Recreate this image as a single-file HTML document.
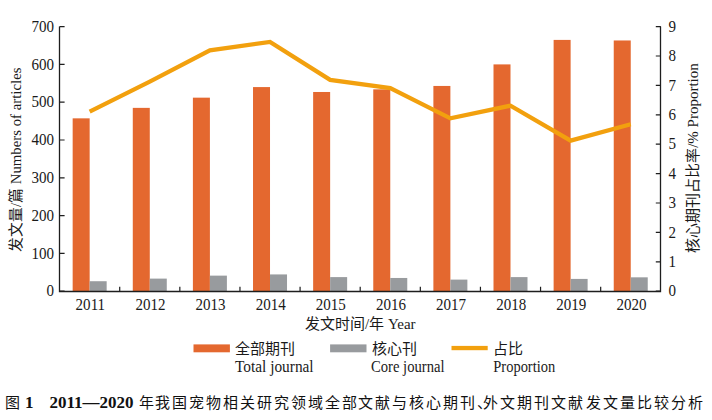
<!DOCTYPE html>
<html lang="zh-CN"><head><meta charset="utf-8"><style>
html,body{margin:0;padding:0;background:#fff;width:712px;height:420px;overflow:hidden}
svg{display:block}
.t{font-family:"Liberation Serif",serif;font-size:15px;fill:#1a1a1a}
.n{font-size:16px}
.cap{font-family:"Liberation Sans",sans-serif;font-size:15px;fill:#111}
.capn{font-family:"Liberation Serif",serif;font-size:17px;font-weight:bold;fill:#111}
</style></head><body>
<svg width="712" height="420" viewBox="0 0 712 420">
<g><rect x="72.66" y="118.34" width="17" height="172.86" fill="#E4682F"/><rect x="89.66" y="281.22" width="17" height="9.98" fill="#989B9E"/><rect x="132.78" y="107.87" width="17" height="183.33" fill="#E4682F"/><rect x="149.78" y="278.61" width="17" height="12.59" fill="#989B9E"/><rect x="192.90" y="97.66" width="17" height="193.54" fill="#E4682F"/><rect x="209.90" y="275.63" width="17" height="15.57" fill="#989B9E"/><rect x="253.02" y="87.08" width="17" height="204.12" fill="#E4682F"/><rect x="270.02" y="274.42" width="17" height="16.78" fill="#989B9E"/><rect x="313.14" y="91.99" width="17" height="199.21" fill="#E4682F"/><rect x="330.14" y="277.10" width="17" height="14.10" fill="#989B9E"/><rect x="373.26" y="89.35" width="17" height="201.85" fill="#E4682F"/><rect x="390.26" y="277.97" width="17" height="13.23" fill="#989B9E"/><rect x="433.38" y="85.95" width="17" height="205.25" fill="#E4682F"/><rect x="450.38" y="279.60" width="17" height="11.60" fill="#989B9E"/><rect x="493.50" y="64.40" width="17" height="226.80" fill="#E4682F"/><rect x="510.50" y="277.10" width="17" height="14.10" fill="#989B9E"/><rect x="553.62" y="39.91" width="17" height="251.29" fill="#E4682F"/><rect x="570.62" y="278.91" width="17" height="12.29" fill="#989B9E"/><rect x="613.74" y="40.47" width="17" height="250.73" fill="#E4682F"/><rect x="630.74" y="277.33" width="17" height="13.87" fill="#989B9E"/></g>
<polyline points="89.66,111.57 149.78,81.58 209.90,50.41 270.02,41.89 330.14,79.81 390.26,88.05 450.38,118.33 510.50,105.69 570.62,140.67 630.74,124.21" fill="none" stroke="#F2A00E" stroke-width="4.3" stroke-linejoin="miter" stroke-linecap="butt"/>
<path d="M59.5,26.6 V291.5 H660.5 V26.6" fill="none" stroke="#1e1e1e" stroke-width="1.3" stroke-linejoin="miter"/><path d="M59.6,291.20 h5 M59.6,253.40 h5 M59.6,215.60 h5 M59.6,177.80 h5 M59.6,140.00 h5 M59.6,102.20 h5 M59.6,64.40 h5 M59.6,26.60 h5 M660.8,291.20 h-5 M660.8,261.80 h-5 M660.8,232.40 h-5 M660.8,203.00 h-5 M660.8,173.60 h-5 M660.8,144.20 h-5 M660.8,114.80 h-5 M660.8,85.40 h-5 M660.8,56.00 h-5 M660.8,26.60 h-5 M119.72,291.2 v-4.5 M179.84,291.2 v-4.5 M239.96,291.2 v-4.5 M300.08,291.2 v-4.5 M360.20,291.2 v-4.5 M420.32,291.2 v-4.5 M480.44,291.2 v-4.5 M540.56,291.2 v-4.5 M600.68,291.2 v-4.5" fill="none" stroke="#1e1e1e" stroke-width="1.2"/>
<g class="t"><text transform="translate(54,296.40) scale(0.94,1)" class="n" text-anchor="end">0</text><text transform="translate(54,258.60) scale(0.94,1)" class="n" text-anchor="end">100</text><text transform="translate(54,220.80) scale(0.94,1)" class="n" text-anchor="end">200</text><text transform="translate(54,183.00) scale(0.94,1)" class="n" text-anchor="end">300</text><text transform="translate(54,145.20) scale(0.94,1)" class="n" text-anchor="end">400</text><text transform="translate(54,107.40) scale(0.94,1)" class="n" text-anchor="end">500</text><text transform="translate(54,69.60) scale(0.94,1)" class="n" text-anchor="end">600</text><text transform="translate(54,31.80) scale(0.94,1)" class="n" text-anchor="end">700</text><text transform="translate(668.5,296.40) scale(0.94,1)" class="n">0</text><text transform="translate(668.5,267.00) scale(0.94,1)" class="n">1</text><text transform="translate(668.5,237.60) scale(0.94,1)" class="n">2</text><text transform="translate(668.5,208.20) scale(0.94,1)" class="n">3</text><text transform="translate(668.5,178.80) scale(0.94,1)" class="n">4</text><text transform="translate(668.5,149.40) scale(0.94,1)" class="n">5</text><text transform="translate(668.5,120.00) scale(0.94,1)" class="n">6</text><text transform="translate(668.5,90.60) scale(0.94,1)" class="n">7</text><text transform="translate(668.5,61.20) scale(0.94,1)" class="n">8</text><text transform="translate(668.5,31.80) scale(0.94,1)" class="n">9</text><text transform="translate(90.36,309.7) scale(0.94,1)" class="n" text-anchor="middle">2011</text><text transform="translate(150.48,309.7) scale(0.94,1)" class="n" text-anchor="middle">2012</text><text transform="translate(210.60,309.7) scale(0.94,1)" class="n" text-anchor="middle">2013</text><text transform="translate(270.72,309.7) scale(0.94,1)" class="n" text-anchor="middle">2014</text><text transform="translate(330.84,309.7) scale(0.94,1)" class="n" text-anchor="middle">2015</text><text transform="translate(390.96,309.7) scale(0.94,1)" class="n" text-anchor="middle">2016</text><text transform="translate(451.08,309.7) scale(0.94,1)" class="n" text-anchor="middle">2017</text><text transform="translate(511.20,309.7) scale(0.94,1)" class="n" text-anchor="middle">2018</text><text transform="translate(571.32,309.7) scale(0.94,1)" class="n" text-anchor="middle">2019</text><text transform="translate(631.44,309.7) scale(0.94,1)" class="n" text-anchor="middle">2020</text>
<text transform="translate(21.3,159.8) rotate(-90)" text-anchor="middle" style="font-size:14.8px">发文量/篇 Numbers of articles</text>
<text transform="translate(697.5,158) rotate(-90)" text-anchor="middle">核心期刊占比率/% Proportion</text>
<text x="360.3" y="328.8" text-anchor="middle">发文时间/年 Year</text>
<text x="235" y="354">全部期刊</text>
<text transform="translate(235,372) scale(0.96,1)" class="n">Total journal</text>
<text x="371.5" y="354">核心刊</text>
<text transform="translate(371,372) scale(0.915,1)" class="n">Core journal</text>
<text x="493" y="354">占比</text>
<text transform="translate(493.3,372) scale(0.905,1)" class="n">Proportion</text>
</g>
<rect x="193.5" y="344.4" width="36.4" height="7.9" fill="#E4682F"/>
<rect x="330.1" y="344.4" width="36.4" height="7.9" fill="#989B9E"/>
<rect x="451.5" y="345.9" width="36.2" height="4.3" fill="#F2A00E"/>
<text class="cap" x="4.5" y="407.5">图</text>
<text class="capn" x="25" y="407.6">1</text>
<text class="capn" x="49.5" y="407.6">2011—2020</text>
<text class="cap" x="138.5" y="408" letter-spacing="1.92">年我国宠物相关研究领域全部文献与核心期刊</text>
<text class="cap" x="476.5" y="408">、</text>
<text class="cap" x="483" y="408" letter-spacing="2.09">外文期刊文献发文量比较分析</text>
</svg>
</body></html>
